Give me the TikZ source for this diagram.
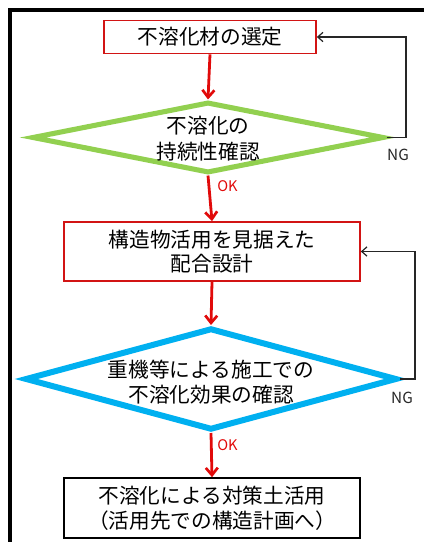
\documentclass[tikz,border=0pt]{standalone}
\usepackage{fontspec}
\setmainfont{Noto Sans CJK JP}
\usetikzlibrary{shapes.geometric,arrows.meta}
\definecolor{boxred}{RGB}{210,20,20}
\definecolor{arrred}{RGB}{225,10,10}
\definecolor{dgreen}{RGB}{146,208,80}
\definecolor{dblue}{RGB}{0,176,240}
\tikzset{
  stepbox/.style={draw=boxred, line width=1.2pt, rectangle, inner sep=0pt, align=center,
    font=\fontsize{15.5}{18.5}\selectfont},
  endbox/.style={stepbox, draw=black},
  decision/.style={diamond, inner sep=0pt, line width=#1},
  dtext/.style={align=center, inner sep=0pt, font=\fontsize{15.5}{19}\selectfont},
  flow/.style={draw=arrred, line width=2.1pt, -{Straight Barb[length=5.5pt,width=9pt,line width=2pt]}},
  ngline/.style={draw=black!85, line width=0.9pt, -{Straight Barb[length=4pt,width=7pt,line width=0.9pt]}},
  oklabel/.style={text=arrred, font=\fontsize{11}{13}\selectfont, anchor=west, inner sep=0pt},
  nglabel/.style={text=black!85, font=\fontsize{11.5}{13}\selectfont, inner sep=0pt},
}
\begin{document}
\begin{tikzpicture}[x=0.75pt,y=-0.75pt]
\useasboundingbox (0,0) rectangle (424,542);
% outer frame (clipped on right and bottom)
\draw[line width=3pt] (10,560) -- (10,10) -- (440,10);

\node[stepbox, minimum width=159pt, minimum height=24.75pt] (b1) at (210,37) {不溶化材の選定};
\node[decision=3.8pt, draw=dgreen, minimum width=264pt, minimum height=53.25pt] (d1) at (208,137.5) {};
\node[dtext] (t1) at (208,138.5) {不溶化の\\持続性確認};
\node[stepbox, minimum width=222pt, minimum height=44.25pt] (b2) at (212,251.5) {構造物活用を見据えた\\配合設計};
\node[decision=4.5pt, draw=dblue, minimum width=279pt, minimum height=76.5pt] (d2) at (211,379) {};
\node[dtext] (t2) at (211,382) {重機等による施工での\\不溶化効果の確認};
\node[endbox, minimum width=222pt, minimum height=45pt] (b3) at (212,508) {不溶化による対策土活用\\（活用先での構造計画へ）};

\draw[flow] (b1.south) -- (d1.north);
\draw[flow] (d1.south) -- (b2.north);
\draw[flow] (b2.south) -- (d2.north);
\draw[flow] (d2.south) -- (b3.north);

\coordinate (n1) at (406,137.5);
\coordinate (n2) at (415,379);
\draw[ngline] (d1.east) -- (n1) |- (b1.east);
\draw[ngline] (d2.east) -- (n2) |- (b2.east);

\node[nglabel] (ng1) at (398,155) {NG};
\node[nglabel] (ng2) at (402,398) {NG};
\node[oklabel] (ok1) at (217,186) {OK};
\node[oklabel] (ok2) at (217,445) {OK};
\end{tikzpicture}
\end{document}
